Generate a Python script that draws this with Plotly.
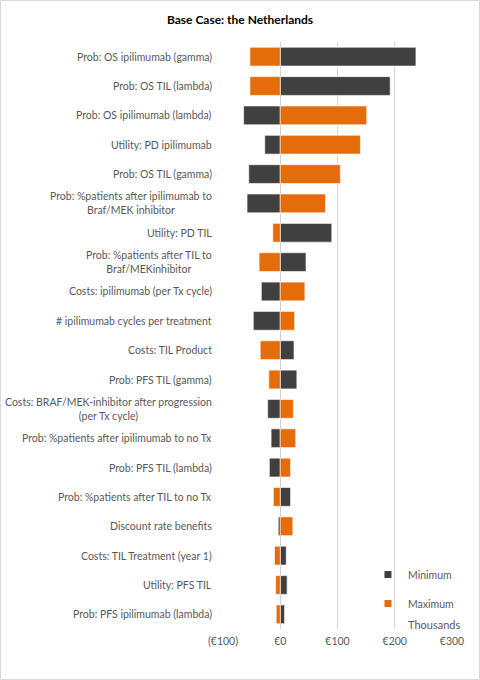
import plotly.graph_objects as go

# tornado chart, values in thousands of euros (difference from base case)
params = [
    "Prob: OS ipilimumab (gamma)",
    "Prob: OS TIL (lambda)",
    "Prob: OS ipilimumab (lambda)",
    "Utility: PD ipilimumab",
    "Prob: OS TIL (gamma)",
    "Prob: %patients after ipilimumab to<br>Braf/MEK inhibitor",
    "Utility: PD TIL",
    "Prob: %patients after TIL to<br>Braf/MEKinhibitor",
    "Costs: ipilimumab (per Tx cycle)",
    "# ipilimumab cycles per treatment",
    "Costs: TIL Product",
    "Prob: PFS TIL (gamma)",
    "Costs: BRAF/MEK-inhibitor after progression<br>(per Tx cycle)",
    "Prob: %patients after ipilimumab to no Tx",
    "Prob: PFS TIL (lambda)",
    "Prob: %patients after TIL to no Tx",
    "Discount rate benefits",
    "Costs: TIL Treatment (year 1)",
    "Utility: PFS TIL",
    "Prob: PFS ipilimumab (lambda)",
]
minimum = [237, 192, -64, -27, -55, -58, 90, 45, -33, -47,
           24, 29, -22, -16, -19, 18, -3.5, 10.5, 12, 7.5]
maximum = [-53, -53, 151, 140, 105, 79, -13, -37, 43, 25,
           -35, -20, 23, 27, 18, -12, 22, -10, -8, -7]

tick_vals = [-100, 0, 100, 200, 300]
tick_text = ["(€100)", "€0", "€100", "€200", "€300"]

dark = "#404040"
orange = "#E46C0A"
grey_text = "#595959"
font_name = "Lato"

fig = go.Figure()
for name, vals, col in [("Minimum", minimum, dark), ("Maximum", maximum, orange)]:
    fig.add_trace(go.Bar(name=name, y=params, x=vals, orientation="h",
                         marker=dict(color=col, line=dict(color="white", width=0.6)),
                         width=0.64, showlegend=False))
    # small square swatch for the legend
    fig.add_trace(go.Scatter(name=name, x=[None], y=[None], mode="markers",
                             marker=dict(symbol="square", size=7, color=col),
                             legendgroup=name, showlegend=True))

# category labels, centred lines like the original
label_notes = [dict(text=p, xref="paper", yref="y", x=0, y=p, xshift=-9,
                    xanchor="right", yanchor="middle", align="center",
                    showarrow=False, font=dict(size=10.5, color=grey_text))
               for p in params]

fig.update_layout(
    width=480, height=680,
    margin=dict(l=223, r=28, t=42, b=51),
    barmode="overlay",
    paper_bgcolor="white", plot_bgcolor="white",
    font=dict(family=font_name, size=11, color=grey_text),
    title=dict(text="<b>Base Case: the Netherlands</b>", x=0.5, xref="container",
               xanchor="center", y=0.971, yref="container", yanchor="middle",
               font=dict(size=12, color="black")),
    showlegend=True,
    legend=dict(x=0.633, y=0.1175, xanchor="left", yanchor="top",
                bgcolor="rgba(0,0,0,0)", font=dict(size=10.5, color=grey_text),
                tracegroupgap=10, traceorder="grouped"),
    xaxis=dict(range=[-100, 300], tickvals=tick_vals, ticktext=tick_text,
               showgrid=True, gridcolor="#d9d9d9", gridwidth=1,
               zeroline=True, zerolinecolor="#d0d0d0", zerolinewidth=1,
               showline=False, ticks="", automargin=False, ticklabelstandoff=4,
               tickfont=dict(size=10.5, color=grey_text)),
    yaxis=dict(autorange="reversed", showgrid=False, ticks="", showline=False,
               showticklabels=False, automargin=False),
    annotations=label_notes + [
        dict(text="Thousands", xref="paper", yref="paper",
             x=1.044, y=0.007, xanchor="right", yanchor="middle",
             showarrow=False, font=dict(size=11, color=grey_text))],
    shapes=[dict(type="rect", xref="paper", yref="paper",
                 x0=(0.5 - 223) / 229, x1=(479.5 - 223) / 229,
                 y0=(629 - 679.5) / 587, y1=(629 - 0.5) / 587,
                 line=dict(color="#d9d9d9", width=1), layer="below")],
)

# drop the browser's default page margin so the figure sits at the window corner
fig.write_html("out.html", config={"displayModeBar": False},
               post_script="document.body.style.margin='0';")
